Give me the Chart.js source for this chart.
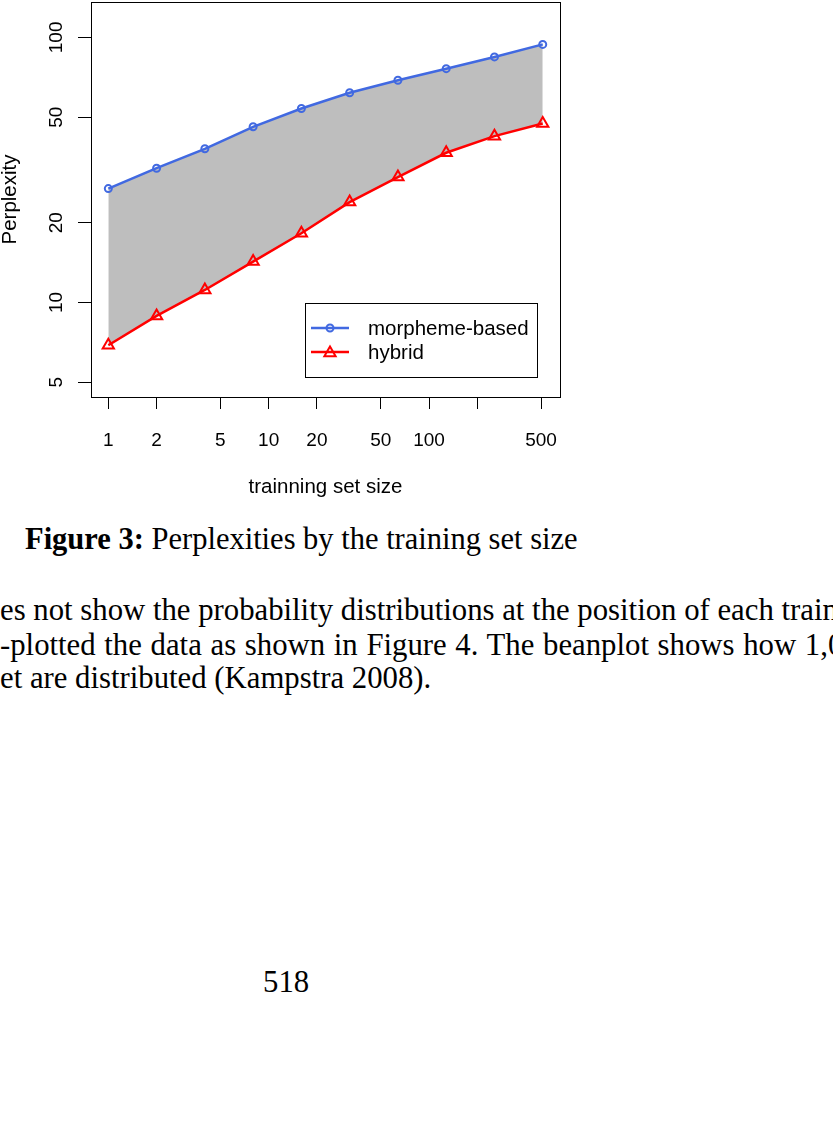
<!DOCTYPE html>
<html>
<head>
<meta charset="utf-8">
<script src="https://cdn.jsdelivr.net/npm/chart.js@4/dist/chart.umd.min.js"></script>
<style>
  html, body { margin: 0; padding: 0; background: #fff; }
  body { width: 833px; height: 1125px; position: relative; overflow: hidden; }
  #wrap { position: absolute; left: 0; top: 0; width: 833px; height: 510px; }
  .serif { position: absolute; font-family: "Liberation Serif", "Times New Roman", serif; font-size: 30.75px; line-height: 30px; white-space: nowrap; color: #000; }
</style>
</head>
<body>
<div id="wrap"><canvas id="c" width="833" height="510"></canvas></div>
<div class="serif" style="left:25px; top:524px; font-size:30.5px;"><b>Figure 3:</b> Perplexities by the training set size</div>
<div class="serif" style="left:0px; top:595px;">es not show the probability distributions at the position of each train</div>
<div class="serif" style="left:0px; top:630px; word-spacing:1px;">-plotted the data as shown in Figure 4. The beanplot shows how 1,0</div>
<div class="serif" style="left:0px; top:663px;">et are distributed (Kampstra 2008).</div>
<div class="serif" style="left:263px; top:967px;">518</div>
<script>
// ---- data ----
const trainingSizes = [1, 2, 4, 8, 16, 32, 64, 128, 256, 512];
const morphemeBased = [26.9, 32.1, 38.0, 46.0, 53.9, 61.8, 68.9, 76.2, 84.4, 94.1];
const hybrid        = [6.9, 8.9, 11.15, 14.27, 18.24, 23.92, 29.72, 36.71, 42.41, 47.33];
const seriesNames   = ["morpheme-based", "hybrid"];
const xTickValues   = [1, 2, 5, 10, 20, 50, 100, 200, 500];
const xTickLabels   = ["1", "2", "5", "10", "20", "50", "100", "", "500"];
const yTickValues   = [5, 10, 20, 50, 100];
const yTickLabels   = ["5", "10", "20", "50", "100"];
const xTitle = "trainning set size";
const yTitle = "Perplexity";

const BLUE = "#4169E1", RED = "#FF0000", FILL = "#BEBEBE";
const SANS = '"Liberation Sans", Arial, sans-serif';
const AXIS_FONT = '19px ' + SANS;
const LEGEND_FONT = '20.5px ' + SANS;

const toPts = (ys) => trainingSizes.map((x, i) => ({ x: x, y: ys[i] }));

const overlay = {
  id: "overlay",
  afterDraw(chart) {
    const ctx = chart.ctx;
    const a = chart.chartArea;
    const ys = chart.scales.y;
    ctx.save();
    // plot box
    ctx.strokeStyle = "#000";
    ctx.lineWidth = 1;
    ctx.strokeRect(Math.round(a.left) + 0.5, Math.round(a.top) + 0.5,
                   Math.round(a.right - a.left), Math.round(a.bottom - a.top));
    // rotated y tick labels
    ctx.fillStyle = "#000";
    ctx.font = AXIS_FONT;
    ctx.textAlign = "center";
    ctx.textBaseline = "middle";
    yTickValues.forEach((v, i) => {
      const py = ys.getPixelForValue(v);
      ctx.save();
      ctx.translate(57, py);
      ctx.rotate(-Math.PI / 2);
      ctx.fillText(yTickLabels[i], 0, 0);
      ctx.restore();
    });
    // legend
    const lx = 305, ly = 303, lw = 232, lh = 74;
    ctx.fillStyle = "#fff";
    ctx.fillRect(lx, ly, lw, lh);
    ctx.strokeStyle = "#000";
    ctx.lineWidth = 1;
    ctx.strokeRect(lx + 0.5, ly + 0.5, lw, lh);
    const rows = [
      { y: 328, color: BLUE, style: "circle", r: 3.5 },
      { y: 352, color: RED, style: "triangle", r: 6.5 }
    ];
    rows.forEach((row, i) => {
      ctx.strokeStyle = row.color;
      ctx.lineWidth = 2.5;
      ctx.beginPath();
      ctx.moveTo(311, row.y);
      ctx.lineTo(349, row.y);
      ctx.stroke();
      ctx.lineWidth = 2;
      ctx.fillStyle = "rgba(0,0,0,0)";
      Chart.helpers.drawPoint(ctx, { pointStyle: row.style, radius: row.r, borderWidth: 2, rotation: 0 }, 330, row.y + (row.style === "triangle" ? 1 : 0));
      ctx.fillStyle = "#000";
      ctx.font = LEGEND_FONT;
      ctx.textAlign = "left";
      ctx.textBaseline = "middle";
      ctx.fillText(seriesNames[i], 368, row.y + 1);
    });
    ctx.restore();
  }
};

new Chart(document.getElementById("c"), {
  type: "line",
  data: {
    datasets: [
      {
        label: seriesNames[0],
        data: toPts(morphemeBased),
        borderColor: BLUE,
        backgroundColor: FILL,
        borderWidth: 2.5,
        fill: "+1",
        pointStyle: "circle",
        pointRadius: 3.5,
        pointBorderWidth: 2,
        pointBorderColor: BLUE,
        pointBackgroundColor: "rgba(0,0,0,0)",
        tension: 0
      },
      {
        label: seriesNames[1],
        data: toPts(hybrid),
        borderColor: RED,
        backgroundColor: RED,
        borderWidth: 2.5,
        fill: false,
        pointStyle: "triangle",
        pointRadius: 6.5,
        pointBorderWidth: 2,
        pointBorderColor: RED,
        pointBackgroundColor: "rgba(0,0,0,0)",
        tension: 0
      }
    ]
  },
  options: {
    responsive: false,
    animation: false,
    events: [],
    layout: { autoPadding: false, padding: { left: 0, top: 2, right: 273, bottom: 0 } },
    plugins: {
      legend: { display: false },
      tooltip: { enabled: false },
      filler: { drawTime: "beforeDatasetsDraw" }
    },
    scales: {
      x: {
        type: "logarithmic",
        position: "bottom",
        min: Math.pow(10, -0.108),
        max: Math.pow(10, 2.817),
        afterBuildTicks: (s) => { s.ticks = xTickValues.map(v => ({ value: v })); },
        afterFit: (s) => { s.height = 113; },
        grid: { display: true, drawOnChartArea: false, drawTicks: true, tickLength: 12, color: "#000", lineWidth: 1 },
        border: { display: false },
        ticks: {
          autoSkip: false, maxRotation: 0, minRotation: 0, padding: 20,
          color: "#000", font: { family: SANS, size: 19 },
          callback: (v) => { const i = xTickValues.indexOf(v); return i >= 0 ? xTickLabels[i] : ""; }
        },
        title: { display: true, text: xTitle, color: "#000", padding: { top: 0, bottom: 12 },
                 font: { family: SANS, size: 20.5, lineHeight: 1 } }
      },
      y: {
        type: "logarithmic",
        position: "left",
        min: 4.40,
        max: 136,
        afterBuildTicks: (s) => { s.ticks = yTickValues.map(v => ({ value: v })); },
        afterFit: (s) => { s.width = 91; },
        grid: { display: true, drawOnChartArea: false, drawTicks: true, tickLength: 13, color: "#000", lineWidth: 1 },
        border: { display: false },
        ticks: { display: false },
        title: { display: true, text: yTitle, color: "#000", padding: { top: 0, bottom: 0 },
                 font: { family: SANS, size: 20.5, lineHeight: 1 } }
      }
    }
  },
  plugins: [overlay]
});
</script>
</body>
</html>
